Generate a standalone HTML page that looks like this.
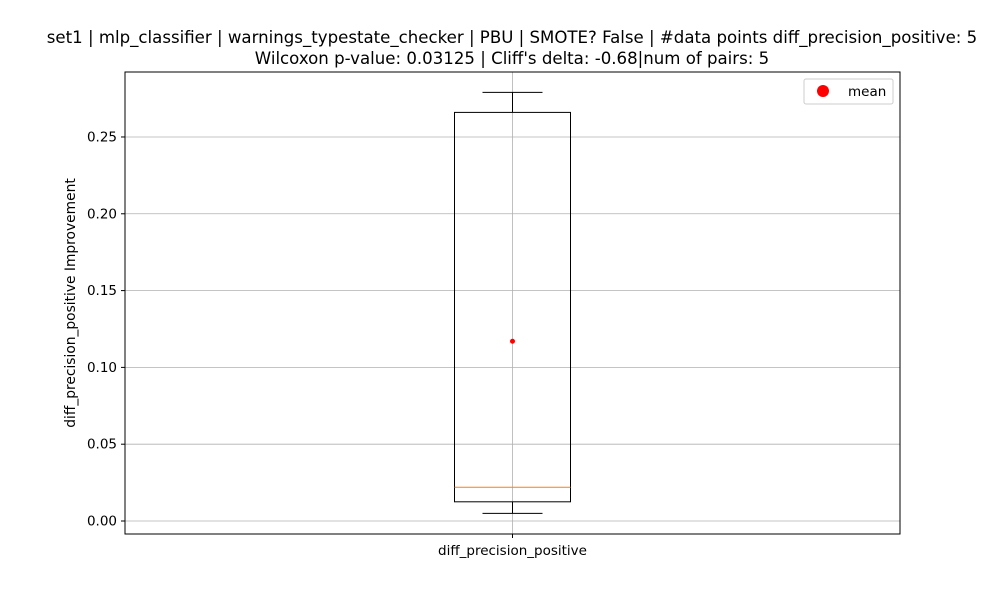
<!DOCTYPE html>
<html><head><meta charset="utf-8"><style>
body{margin:0;background:#fff;font-family:"Liberation Sans","DejaVu Sans",sans-serif;}
svg text{font-family:"DejaVu Sans","Liberation Sans",sans-serif;}
</style></head><body>
<svg id="chart" width="1000" height="600" xmlns="http://www.w3.org/2000/svg">
<rect width="1000" height="600" fill="#fff"/>
<text x="512" y="43" font-size="16.6" text-anchor="middle">set1 | mlp_classifier | warnings_typestate_checker | PBU | SMOTE? False | #data points diff_precision_positive: 5</text>
<text x="512" y="64" font-size="16.6" text-anchor="middle">Wilcoxon p-value: 0.03125 | Cliff's delta: -0.68|num of pairs: 5</text>
<g id="grid"></g>
<g id="marks"></g>
<rect x="125" y="72" width="775" height="462" fill="none" stroke="#000" stroke-width="1"/>
<g id="axes"></g>
<text transform="translate(75,303) rotate(-90)" font-size="13.8" text-anchor="middle">diff_precision_positive Improvement</text>
<g>
<rect x="804" y="79" width="89" height="25" rx="2" fill="#fff" stroke="#ccc"/>
<circle cx="823" cy="91" r="6" fill="red"/>
<text x="848" y="96" font-size="13.5">mean</text>
</g>
</svg>
<script>
const categories=["diff_precision_positive"];
const whiskerLow=[0.005];
const q1=[0.0125];
const median=[0.022];
const q3=[0.266];
const whiskerHigh=[0.279];
const means=[0.117];
const yTicks=[0,0.05,0.10,0.15,0.20,0.25];
const yTickLabels=["0.00","0.05","0.10","0.15","0.20","0.25"];
const NS="http://www.w3.org/2000/svg";
const yMin=-0.00846,yMax=0.2923,plotTop=72,plotBot=534,plotLeft=125,plotRight=900;
const yS=v=>plotBot-(v-yMin)/(yMax-yMin)*(plotBot-plotTop);
const xS=i=>plotLeft+(i+0.5)*(plotRight-plotLeft)/categories.length;
function mk(parent,tag,attrs){const e=document.createElementNS(NS,tag);for(const k in attrs)e.setAttribute(k,attrs[k]);document.getElementById(parent).appendChild(e);return e;}
yTicks.forEach((t,i)=>{
 const g=mk('grid','line',{x1:plotLeft,x2:plotRight,y1:yS(t),y2:yS(t),stroke:'#b0b0b0','stroke-width':0.8});
 
 
 const tk=mk('axes','line',{x1:plotLeft-4,x2:plotLeft,y1:yS(t),y2:yS(t),stroke:'#000'});
 
 
 const l=mk('axes','text',{x:plotLeft-8,y:yS(t)+4.5,'font-size':13.5,'text-anchor':'end'});
 l.textContent=yTickLabels[i];
 
 
});
categories.forEach((c,i)=>{
 const cx=xS(i),hw=58,cw=30;
 const vg=mk('grid','line',{x1:cx,x2:cx,y1:plotTop,y2:plotBot,stroke:'#b0b0b0','stroke-width':0.8});
 
 
 const w1=mk('marks','line',{x1:cx,x2:cx,y1:yS(whiskerLow[i]),y2:yS(q1[i]),stroke:'#000'});
 
 
 const w2=mk('marks','line',{x1:cx,x2:cx,y1:yS(q3[i]),y2:yS(whiskerHigh[i]),stroke:'#000'});
 
 
 const c1=mk('marks','line',{x1:cx-cw,x2:cx+cw,y1:yS(whiskerLow[i]),y2:yS(whiskerLow[i]),stroke:'#000'});
 
 
 const c2=mk('marks','line',{x1:cx-cw,x2:cx+cw,y1:yS(whiskerHigh[i]),y2:yS(whiskerHigh[i]),stroke:'#000'});
 
 
 const b=mk('marks','rect',{x:cx-hw,y:yS(q3[i]),width:2*hw,height:yS(q1[i])-yS(q3[i]),fill:'none',stroke:'#000'});
 
 
 const m=mk('marks','line',{x1:cx-hw,x2:cx+hw,y1:yS(median[i]),y2:yS(median[i]),stroke:'#ff7f0e'});
 
 
 const mp=mk('marks','circle',{cx:cx,cy:yS(means[i]),r:2.5,fill:'red'});
 
 
 const xt=mk('axes','line',{x1:cx,x2:cx,y1:plotBot,y2:plotBot+4,stroke:'#000'});
 
 
 const xl=mk('axes','text',{x:cx,y:plotBot+21,'font-size':13.5,'text-anchor':'middle'});
 xl.textContent=c;
 
 
});
</script>
</body></html>
